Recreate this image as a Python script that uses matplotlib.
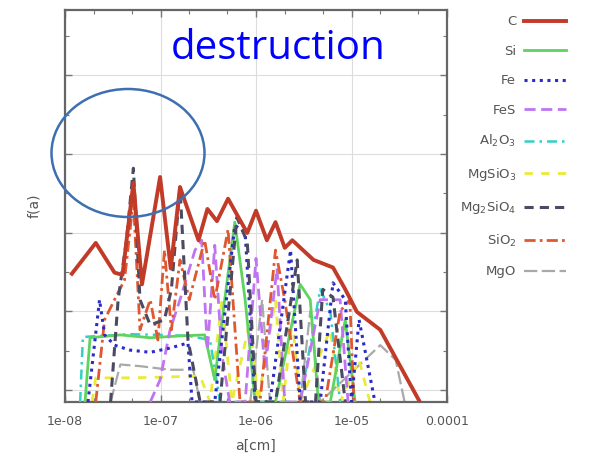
import matplotlib

matplotlib.use("Agg")
import matplotlib.pyplot as plt
from matplotlib.patches import Ellipse
from matplotlib.ticker import LogLocator, NullFormatter, FixedLocator

# size distributions f(a) after destruction, one per grain species
a_C = [1.18e-8, 2.1e-8, 3.3e-8, 4.0e-8, 5.2e-8, 6.4e-8, 9.9e-8, 1.28e-7, 1.6e-7, 2.5e-7,
       3.1e-7, 3.9e-7, 5.1e-7, 8.1e-7, 1.0e-6, 1.3e-6, 1.6e-6, 2.0e-6, 2.4e-6, 4.0e-6,
       6.4e-6, 8.6e-6, 1.14e-5, 2.0e-5, 5.2e-5]
f_C = [3.0e-3, 7.4e-3, 3.1e-3, 2.9e-3, 4.3e-2, 2.2e-3, 5.1e-2, 3.5e-3, 3.8e-2, 8.0e-3,
       2.0e-2, 1.4e-2, 2.7e-2, 9.9e-3, 1.9e-2, 8.0e-3, 1.36e-2, 6.4e-3, 8.0e-3, 4.5e-3,
       3.6e-3, 1.9e-3, 9.8e-4, 5.8e-4, 7.0e-5]

a_Si = [1.62e-8, 1.83e-8, 3.8e-8, 7.8e-8, 1.6e-7, 2.9e-7, 3.7e-7, 4.7e-7, 6.0e-7, 7.7e-7,
        9.8e-7, 1.6e-6, 2.9e-6, 3.7e-6, 4.5e-6, 6.0e-6, 8.6e-6, 1.09e-5]
f_Si = [7e-5, 4.6e-4, 5.0e-4, 4.6e-4, 4.85e-4, 5.0e-4, 1.34e-4, 1.4e-3, 1.36e-2, 1.4e-3,
        7e-5, 7e-5, 2.2e-3, 1.4e-3, 7e-5, 7e-5, 7.8e-4, 7e-5]

a_Fe = [1.74e-8, 2.3e-8, 2.6e-8, 3.3e-8, 4.8e-8, 7.8e-8, 1.26e-7, 1.94e-7, 2.14e-7, 3.7e-7,
        6.0e-7, 7.7e-7, 9.8e-7, 1.4e-6, 2.3e-6, 2.9e-6, 4.7e-6, 6.4e-6, 8.6e-6, 1.0e-5,
        1.2e-5, 1.76e-5]
f_Fe = [7e-5, 1.4e-3, 5.0e-4, 3.7e-4, 3.2e-4, 3.0e-4, 3.4e-4, 3.95e-4, 7e-5, 7e-5,
        1.24e-2, 1.0e-2, 7e-5, 7e-5, 6.0e-3, 7e-5, 7e-5, 2.3e-3, 1.4e-3, 7e-5,
        7.8e-4, 7e-5]

a_FeS = [7.8e-8, 9.9e-8, 1.26e-7, 1.6e-7, 2.3e-7, 2.7e-7, 3.1e-7, 3.7e-7, 4.4e-7, 5.3e-7,
         7.7e-7, 1.0e-6, 1.24e-6, 1.66e-6, 2.0e-6, 2.9e-6, 4.7e-6, 7.6e-6, 9.2e-6]
f_FeS = [7e-5, 1.34e-4, 5.8e-4, 1.4e-3, 6.0e-3, 8.0e-3, 3.2e-4, 6.9e-3, 2.8e-4, 7e-5,
         7e-5, 4.7e-3, 1.8e-4, 3.5e-3, 7e-5, 7e-5, 1.4e-3, 1.4e-3, 7e-5]

a_Al2O3 = [1.44e-8, 1.54e-8, 2.3e-8, 4.8e-8, 9.9e-8, 2.0e-7, 3.3e-7, 4.2e-7, 2.9e-6, 4.7e-6,
           6.0e-6, 7.6e-6]
f_Al2O3 = [7e-5, 4.7e-4, 4.85e-4, 5.1e-4, 5.0e-4, 4.85e-4, 4.3e-4, 7e-5, 7e-5, 1.9e-3,
           1.0e-3, 7e-5]

a_MgSiO3 = [1.92e-8, 2.1e-8, 4.8e-8, 1.26e-7, 2.6e-7, 3.3e-7, 4.4e-7, 5.6e-7, 8.7e-7, 1.05e-6,
            1.6e-6, 1.92e-6, 2.4e-6, 2.9e-6, 6.0e-6, 7.6e-6, 1.2e-5, 1.56e-5]
f_MgSiO3 = [7e-5, 1.42e-4, 1.42e-4, 1.46e-4, 1.5e-4, 7e-5, 1.4e-3, 7e-5, 7.8e-4, 7e-5,
            1.4e-3, 7e-5, 7.8e-4, 7e-5, 5.8e-4, 7e-5, 2.4e-4, 7e-5]

a_Mg2SiO4 = [3.0e-8, 3.6e-8, 4.4e-8, 5.2e-8, 6.1e-8, 7.8e-8, 1.1e-7, 1.3e-7, 1.6e-7, 1.94e-7,
             2.6e-7, 4.2e-7, 6.3e-7, 8.1e-7, 1.0e-6, 1.6e-6, 2.7e-6, 3.3e-6, 4.2e-6, 5.0e-6,
             6.4e-6, 8.6e-6]
f_Mg2SiO4 = [7e-5, 1.4e-3, 8.0e-3, 6.6e-2, 1.4e-3, 6.7e-4, 7.8e-4, 1.9e-3, 3.8e-2, 4.3e-4,
             7e-5, 7e-5, 1.57e-2, 7.6e-3, 7e-5, 7e-5, 4.5e-3, 7e-5, 7e-5, 1.9e-3,
             1.5e-3, 7e-5]

a_SiO2 = [2.1e-8, 2.6e-8, 3.3e-8, 4.2e-8, 5.2e-8, 6.1e-8, 7.8e-8, 9.4e-8, 1.1e-7, 1.3e-7,
          1.6e-7, 2.0e-7, 2.9e-7, 3.7e-7, 5.1e-7, 6.8e-7, 1.1e-6, 1.6e-6, 2.0e-6, 2.9e-6,
          5.3e-6, 7.6e-6, 9.6e-6, 1.06e-5]
f_SiO2 = [7e-5, 7.8e-4, 1.4e-3, 2.5e-3, 2.6e-2, 5.8e-4, 1.4e-3, 4.3e-4, 6.0e-3, 5.8e-4,
          4.5e-3, 1.4e-3, 8.0e-3, 1.4e-3, 1.1e-2, 7e-5, 7e-5, 6.0e-3, 1.4e-3, 7e-5,
          7e-5, 1.0e-3, 1.4e-3, 7e-5]

a_MgO = [3.0e-8, 3.8e-8, 6.1e-8, 1.26e-7, 2.2e-7, 2.6e-7, 8.7e-7, 1.16e-6, 1.4e-6, 2.9e-6,
         3.7e-6, 4.7e-6, 2.0e-5, 2.9e-5, 3.6e-5]
f_MgO = [7e-5, 2.1e-4, 2.0e-4, 1.8e-4, 1.8e-4, 7e-5, 7e-5, 1.4e-3, 7e-5, 7e-5,
         1.0e-3, 7e-5, 3.7e-4, 2.4e-4, 7e-5]

x_ticks = [1e-8, 1e-7, 1e-6, 1e-5, 1e-4]
x_tick_labels = ["1e-08", "1e-07", "1e-06", "1e-05", "0.0001"]

# label, data, colour, linestyle, linewidth, zorder
series = [
    ("C", a_C, f_C, "#c23a28", "-", 2.8, 10),
    ("Si", a_Si, f_Si, "#5fd35f", "-", 2.0, 4),
    ("Fe", a_Fe, f_Fe, "#2b2bc8", (0, (1, 1.5)), 2.2, 8),
    ("FeS", a_FeS, f_FeS, "#c074f2", (0, (4, 2)), 2.0, 5),
    ("Al$_2$O$_3$", a_Al2O3, f_Al2O3, "#33d0c4", (0, (4, 2, 1, 2)), 1.8, 3),
    ("MgSiO$_3$", a_MgSiO3, f_MgSiO3, "#eaea38", (0, (3, 3)), 2.0, 2),
    ("Mg$_2$SiO$_4$", a_Mg2SiO4, f_Mg2SiO4, "#4a4a62", (0, (3, 2)), 2.2, 9),
    ("SiO$_2$", a_SiO2, f_SiO2, "#e0582f", (0, (4, 1.5, 1, 1.5)), 2.0, 7),
    ("MgO", a_MgO, f_MgO, "#a9a9a9", (0, (6, 2)), 1.6, 1),
]

fig = plt.figure(figsize=(6.12, 4.61), dpi=100)
ax = fig.add_axes([65 / 612, 1 - 402 / 461, 382 / 612, 392 / 461])

for label, a, f, color, ls, lw, z in series:
    ax.plot(a, f, color=color, linestyle=ls, linewidth=lw, label=label, zorder=z)

ax.set_xscale("log")
ax.set_yscale("log")
ax.set_xlim(1e-8, 1e-4)
ax.set_ylim(7e-5, 6.8)

ax.set_xticks(x_ticks)
ax.set_xticklabels(x_tick_labels, fontsize=9, color="#555555")
ax.xaxis.set_minor_locator(LogLocator(base=10, subs=(2.0, 5.0)))
ax.xaxis.set_minor_formatter(NullFormatter())
ax.yaxis.set_major_locator(LogLocator(base=10, numticks=10))
ax.yaxis.set_minor_locator(FixedLocator([3.16e-4, 3.16e-3, 3.16e-2, 3.16e-1, 3.16]))
ax.yaxis.set_major_formatter(NullFormatter())
ax.yaxis.set_minor_formatter(NullFormatter())
ax.tick_params(which="both", direction="in", top=True, right=True, color="#777777")
ax.tick_params(which="major", length=5, width=1)
ax.tick_params(axis="x", which="major", pad=9)
ax.tick_params(which="minor", length=3, width=0.8)
ax.grid(which="major", color="#dddddd", linewidth=0.8)
ax.set_axisbelow(True)
for s in ax.spines.values():
    s.set_color("#666666")
    s.set_linewidth(1.6)

ax.set_xlabel("a[cm]", fontsize=10, color="#555555", labelpad=8)
ax.set_ylabel("f(a)", fontsize=10, color="#555555", labelpad=14)

leg = ax.legend(loc="upper left", bbox_to_anchor=(1.02, 1.0), frameon=False,
                markerfirst=False, fontsize=9.5, labelspacing=1.25, handlelength=3.2,
                handletextpad=0.6, borderaxespad=0.0)
for t in leg.get_texts():
    t.set_color("#555555")

fig.text(0.455, 0.895, "destruction", fontsize=29, color="#0000ff",
         family="Open Sans", ha="center", va="center")

fig.patches.append(Ellipse((128 / 612, 1 - 153 / 461), 153 / 612, 128 / 461,
                           transform=fig.transFigure, fill=False,
                           edgecolor="#3e6fb0", linewidth=1.8, zorder=20))

fig.savefig("out.png", dpi=100, facecolor="white")
